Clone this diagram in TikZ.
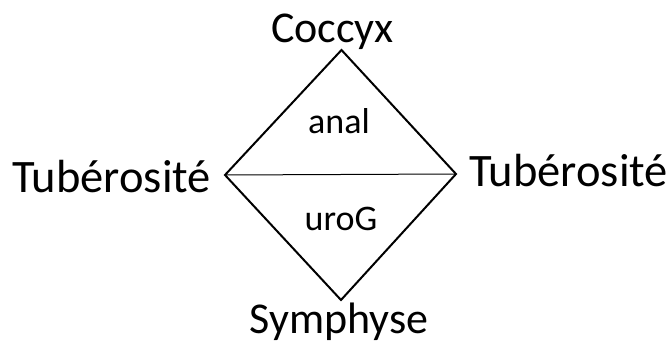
\documentclass[tikz,border=0pt]{standalone}
\usepackage{fontspec}
\setmainfont{Carlito}
\begin{document}
\begin{tikzpicture}[x=1pt,y=-1pt,
  biglabel/.style={font=\fontsize{44}{48}\selectfont, inner sep=0pt, anchor=base},
  sidelabel/.style={font=\fontsize{46.5}{50}\selectfont, inner sep=0pt, anchor=base west},
  smalllabel/.style={font=\fontsize{36}{40}\selectfont, inner sep=0pt, anchor=base},
  edge/.style={line width=2pt, line join=miter},
  divider/.style={line width=1pt}]
  \useasboundingbox (0,0) rectangle (667,345);
  % corners of the diamond
  \coordinate (top) at (341.5,50);
  \coordinate (right) at (456,174);
  \coordinate (bottom) at (341,300);
  \coordinate (left) at (225,175);
  \draw[edge] (top) -- (right) -- (bottom) -- (left) -- cycle;
  \draw[divider] (left) -- (right);
  % labels
  \node[biglabel] (coccyx) at (332.5,43) {Coccyx};
  \node[sidelabel] (tubl) at (12,192) {Tubérosité};
  \node[sidelabel] (tubr) at (469,186) {Tubérosité};
  \node[biglabel] (symphyse) at (339,333) {Symphyse};
  \node[smalllabel] (anal) at (339,133) {anal};
  \node[smalllabel] (urog) at (341,230) {uroG};
\end{tikzpicture}
\end{document}
